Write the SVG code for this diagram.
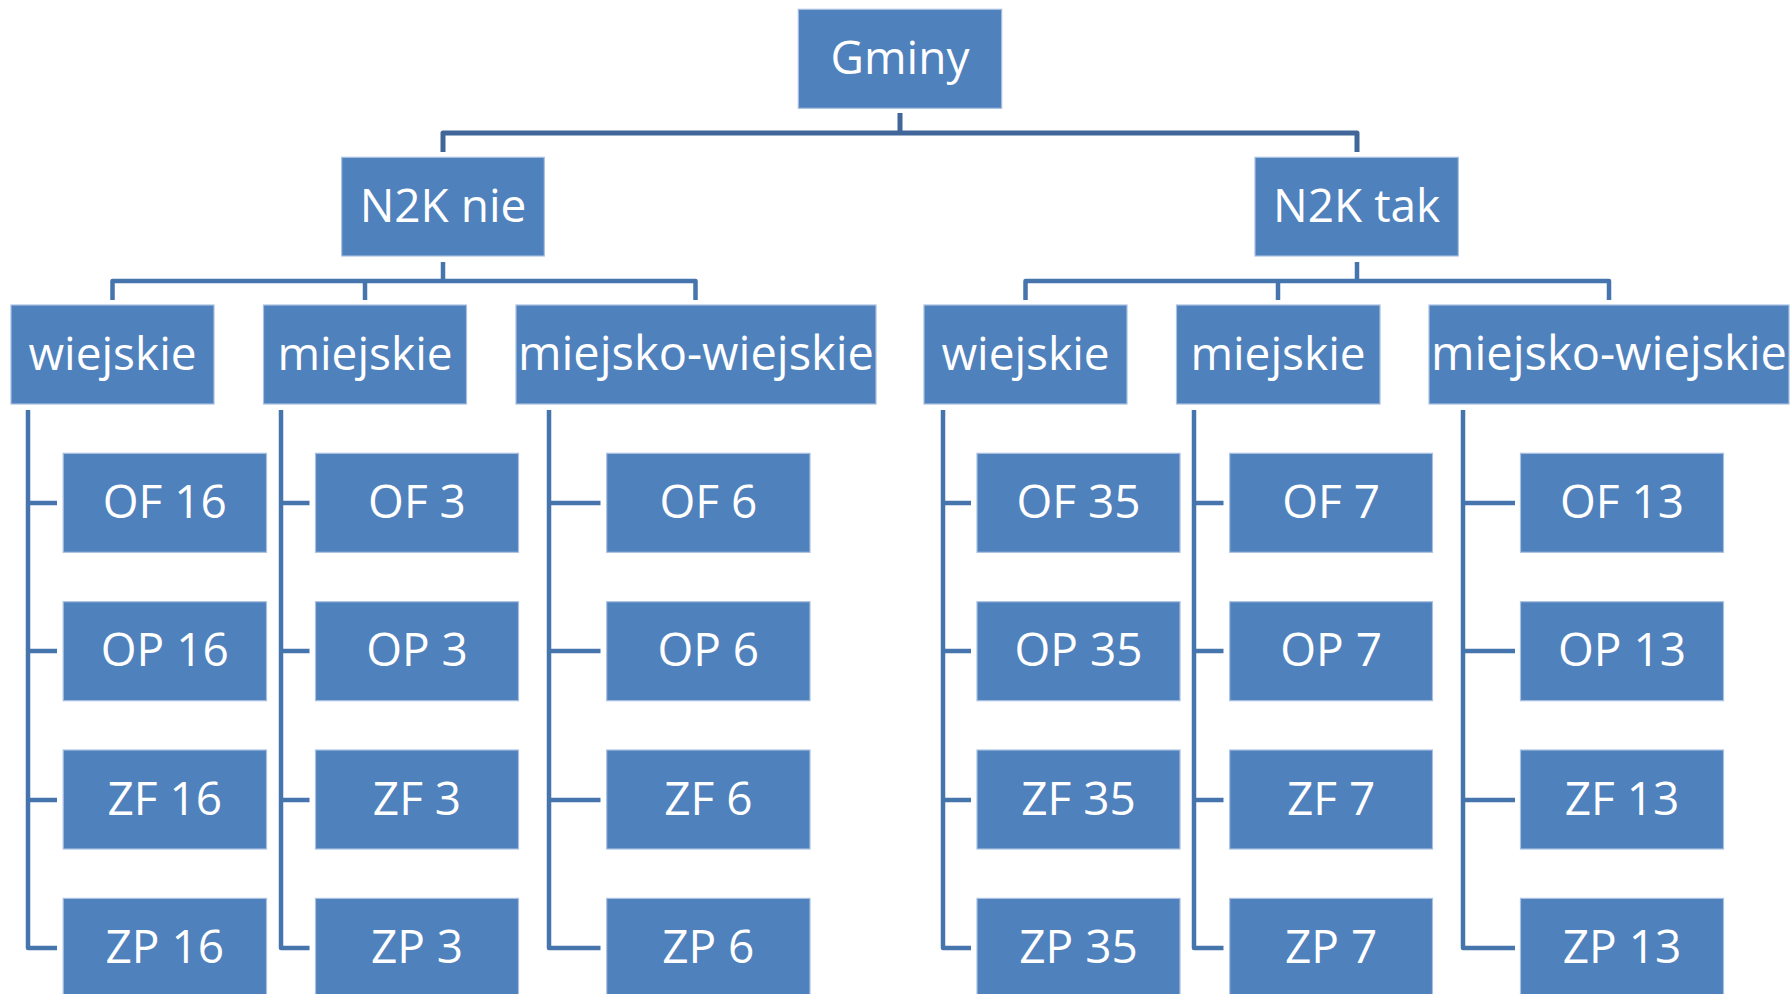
<svg xmlns="http://www.w3.org/2000/svg" width="1791" height="994" viewBox="0 0 1791 994">
<style>
.box{fill:#4f81bd;stroke:#a9c0e0;stroke-width:1.2}
.t{fill:#fff;font-family:"Open Sans","Noto Sans","Liberation Sans",sans-serif;font-size:46px;text-anchor:middle}
.w{font-size:47px}
.c{fill:none;stroke:#4674ad;stroke-width:4.5;stroke-linejoin:round}
.c0{fill:none;stroke:#41679a;stroke-width:5;stroke-linejoin:round}
</style>
<rect width="1791" height="994" fill="#fff"/>
<g id="connectors">
<path class="c0" d="M900,113V133M443,152V133H1357V152"/>
<path class="c" d="M443,262V281M112.5,300V281H695.5V300M365,281V300"/>
<path class="c" d="M1357,262V281M1025.5,300V281H1609V300M1278,281V300"/>
<path class="c" d="M28,410V948H57M28,503H57M28,651H57M28,800H57"/>
<path class="c" d="M281,410V948H309.5M281,503H309.5M281,651H309.5M281,800H309.5"/>
<path class="c" d="M549,410V948H600.5M549,503H600.5M549,651H600.5M549,800H600.5"/>
<path class="c" d="M943,410V948H971M943,503H971M943,651H971M943,800H971"/>
<path class="c" d="M1194,410V948H1223.5M1194,503H1223.5M1194,651H1223.5M1194,800H1223.5"/>
<path class="c" d="M1463,410V948H1515M1463,503H1515M1463,651H1515M1463,800H1515"/>
</g>
<g id="gminy"><rect class="box" x="798.3" y="9.3" width="203.4" height="99"/><text class="t" x="900" y="73.5">Gminy</text></g>
<g id="n2k-nie"><rect class="box" x="341.7" y="157.3" width="202.6" height="98.7"/><text class="t" x="443" y="221.5">N2K nie</text></g>
<g id="n2k-tak"><rect class="box" x="1255" y="157.3" width="203.3" height="98.7"/><text class="t" x="1356.7" y="221.5">N2K tak</text></g>
<g id="nie-wiejskie"><rect class="box" x="11" y="305" width="203" height="99"/><text class="t" x="112.5" y="369.5">wiejskie</text></g>
<g id="nie-miejskie"><rect class="box" x="263.5" y="305" width="203" height="99"/><text class="t" x="365" y="369.5">miejskie</text></g>
<g id="nie-miejsko-wiejskie"><rect class="box" x="516" y="305" width="360" height="99"/><text class="t w" x="696" y="369.5">miejsko-wiejskie</text></g>
<g id="tak-wiejskie"><rect class="box" x="924" y="305" width="203" height="99"/><text class="t" x="1025.5" y="369.5">wiejskie</text></g>
<g id="tak-miejskie"><rect class="box" x="1176.5" y="305" width="203.5" height="99"/><text class="t" x="1278" y="369.5">miejskie</text></g>
<g id="tak-miejsko-wiejskie"><rect class="box" x="1429" y="305" width="360" height="99"/><text class="t w" x="1609" y="369.5">miejsko-wiejskie</text></g>

<g id="of16"><rect class="box" x="63.2" y="453.3" width="203.3" height="99"/><text class="t" x="164.8" y="517.8">OF 16</text></g>
<g id="op16"><rect class="box" x="63.2" y="601.7" width="203.3" height="99"/><text class="t" x="164.8" y="666.2">OP 16</text></g>
<g id="zf16"><rect class="box" x="63.2" y="750" width="203.3" height="99"/><text class="t" x="164.8" y="814.5">ZF 16</text></g>
<g id="zp16"><rect class="box" x="63.2" y="898.4" width="203.3" height="99"/><text class="t" x="164.8" y="962.9">ZP 16</text></g>

<g id="of3"><rect class="box" x="315.5" y="453.3" width="203" height="99"/><text class="t" x="417" y="517.8">OF 3</text></g>
<g id="op3"><rect class="box" x="315.5" y="601.7" width="203" height="99"/><text class="t" x="417" y="666.2">OP 3</text></g>
<g id="zf3"><rect class="box" x="315.5" y="750" width="203" height="99"/><text class="t" x="417" y="814.5">ZF 3</text></g>
<g id="zp3"><rect class="box" x="315.5" y="898.4" width="203" height="99"/><text class="t" x="417" y="962.9">ZP 3</text></g>

<g id="of6"><rect class="box" x="606.7" y="453.3" width="203.3" height="99"/><text class="t" x="708.3" y="517.8">OF 6</text></g>
<g id="op6"><rect class="box" x="606.7" y="601.7" width="203.3" height="99"/><text class="t" x="708.3" y="666.2">OP 6</text></g>
<g id="zf6"><rect class="box" x="606.7" y="750" width="203.3" height="99"/><text class="t" x="708.3" y="814.5">ZF 6</text></g>
<g id="zp6"><rect class="box" x="606.7" y="898.4" width="203.3" height="99"/><text class="t" x="708.3" y="962.9">ZP 6</text></g>

<g id="of35"><rect class="box" x="977" y="453.3" width="203" height="99"/><text class="t" x="1078.5" y="517.8">OF 35</text></g>
<g id="op35"><rect class="box" x="977" y="601.7" width="203" height="99"/><text class="t" x="1078.5" y="666.2">OP 35</text></g>
<g id="zf35"><rect class="box" x="977" y="750" width="203" height="99"/><text class="t" x="1078.5" y="814.5">ZF 35</text></g>
<g id="zp35"><rect class="box" x="977" y="898.4" width="203" height="99"/><text class="t" x="1078.5" y="962.9">ZP 35</text></g>

<g id="of7"><rect class="box" x="1229.7" y="453.3" width="202.8" height="99"/><text class="t" x="1331.1" y="517.8">OF 7</text></g>
<g id="op7"><rect class="box" x="1229.7" y="601.7" width="202.8" height="99"/><text class="t" x="1331.1" y="666.2">OP 7</text></g>
<g id="zf7"><rect class="box" x="1229.7" y="750" width="202.8" height="99"/><text class="t" x="1331.1" y="814.5">ZF 7</text></g>
<g id="zp7"><rect class="box" x="1229.7" y="898.4" width="202.8" height="99"/><text class="t" x="1331.1" y="962.9">ZP 7</text></g>

<g id="of13"><rect class="box" x="1520.5" y="453.3" width="203" height="99"/><text class="t" x="1622" y="517.8">OF 13</text></g>
<g id="op13"><rect class="box" x="1520.5" y="601.7" width="203" height="99"/><text class="t" x="1622" y="666.2">OP 13</text></g>
<g id="zf13"><rect class="box" x="1520.5" y="750" width="203" height="99"/><text class="t" x="1622" y="814.5">ZF 13</text></g>
<g id="zp13"><rect class="box" x="1520.5" y="898.4" width="203" height="99"/><text class="t" x="1622" y="962.9">ZP 13</text></g>
</svg>
